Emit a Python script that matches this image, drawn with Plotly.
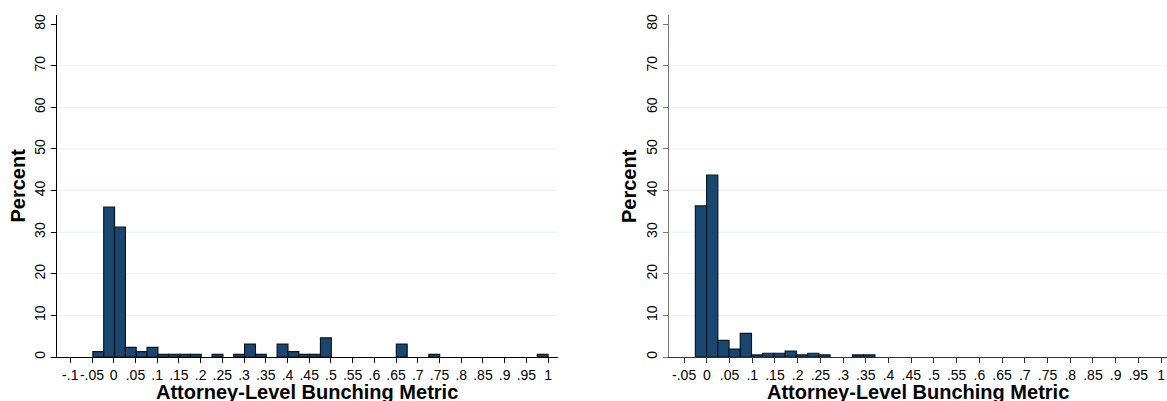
import plotly.graph_objects as go

# ---- data ----
left_bin_start = -0.048
left_bin_width = 0.02495
left_pct = [1.3, 36.0, 31.2, 2.3, 1.3, 2.3, 0.65, 0.65, 0.65, 0.65,
            0, 0.65, 0, 0.65, 3.1, 0.65, 0, 3.1, 1.3, 0.65,
            0.65, 4.6, 0, 0, 0, 0, 0, 0, 3.1, 0,
            0, 0.65, 0, 0, 0, 0, 0, 0, 0, 0,
            0, 0.65]

right_bin_start = -0.0252
right_bin_width = 0.0247
right_pct = [36.3, 43.7, 4.0, 1.9, 5.7, 0.5, 0.9, 0.9, 1.4, 0.5,
             0.9, 0.5, 0, 0, 0.5, 0.5]

left_tickvals = [-0.1, -0.05, 0, 0.05, 0.1, 0.15, 0.2, 0.25, 0.3, 0.35, 0.4, 0.45,
                 0.5, 0.55, 0.6, 0.65, 0.7, 0.75, 0.8, 0.85, 0.9, 0.95, 1]
left_ticktext = ["-.1", "-.05", "0", ".05", ".1", ".15", ".2", ".25", ".3", ".35", ".4", ".45",
                 ".5", ".55", ".6", ".65", ".7", ".75", ".8", ".85", ".9", ".95", "1"]
right_tickvals = left_tickvals[1:]
right_ticktext = left_ticktext[1:]

y_tickvals = [0, 10, 20, 30, 40, 50, 60, 70, 80]
y_gridvals = [10, 20, 30, 40, 50, 60, 70]

x_title = "Attorney-Level Bunching Metric"
y_title = "Percent"

# ---- style ----
FONT = "Arial, Liberation Sans, Helvetica, sans-serif"
BAR_FILL = "#1a476f"
BAR_LINE = "#0b1620"
GRID = "#e8f0f2"
W, H = 1167, 401
T, B = 15, 44
PLOT_H = H - T - B

def nonempty_bins(start, width, pct):
    xs, ys = [], []
    for i, v in enumerate(pct):
        if v > 0:
            xs.append(start + width * (i + 0.5))
            ys.append(v)
    return xs, ys

fig = go.Figure()
lx, ly = nonempty_bins(left_bin_start, left_bin_width, left_pct)
rx, ry = nonempty_bins(right_bin_start, right_bin_width, right_pct)
fig.add_trace(go.Bar(
    x=lx, y=ly, width=left_bin_width,
    marker=dict(color=BAR_FILL, line=dict(color=BAR_LINE, width=1.2)),
    xaxis="x", yaxis="y", showlegend=False, hoverinfo="x+y"))
fig.add_trace(go.Bar(
    x=rx, y=ry, width=right_bin_width,
    marker=dict(color=BAR_FILL, line=dict(color=BAR_LINE, width=1.2)),
    xaxis="x2", yaxis="y2", showlegend=False, hoverinfo="x+y"))

dom_l = [56.6 / W, 557.8 / W]
dom_r = [668.7 / W, 1.0]

def xaxis(dom, rng, tv, tt, anchor, linecolor):
    return dict(domain=dom, range=rng, tickmode="array", tickvals=tv, ticktext=tt,
                tickangle=0, ticks="outside", ticklen=5, tickcolor=linecolor, tickwidth=1,
                showline=True, linecolor=linecolor, linewidth=1, showgrid=False, zeroline=False,
                tickfont=dict(family=FONT, size=14, color="#000"),
                anchor=anchor, fixedrange=True)

def yaxis(anchor, linecolor):
    return dict(domain=[0, 1], range=[0, 82.2], tickmode="array", tickvals=y_tickvals,
                ticktext=[str(v) for v in y_tickvals], tickangle=-90,
                ticks="outside", ticklen=5, tickcolor=linecolor, tickwidth=1,
                showline=True, linecolor=linecolor, linewidth=1, showgrid=False, zeroline=False,
                tickfont=dict(family=FONT, size=14, color="#000"),
                anchor=anchor, fixedrange=True)

fig.update_layout(
    width=W, height=H,
    margin=dict(l=0, r=0, t=T, b=B),
    paper_bgcolor="white", plot_bgcolor="white",
    bargap=0,
    xaxis=xaxis(dom_l, [-0.1315, 1.0223], left_tickvals, left_ticktext, "y", "#000"),
    yaxis=yaxis("x", "#000"),
    xaxis2=xaxis(dom_r, [-0.0839, 1.013], right_tickvals, right_ticktext, "y2", "#333"),
    yaxis2=yaxis("x2", "#777"),
)

# gridlines (behind bars)
shapes = []
for xr, yr in (("x domain", "y"), ("x2 domain", "y2")):
    for g in y_gridvals:
        shapes.append(dict(type="line", xref=xr, yref=yr, x0=0, x1=1, y0=g, y1=g,
                           line=dict(color=GRID, width=1), layer="below"))
fig.update_layout(shapes=shapes)

# axis titles as annotations for exact placement
title_font = dict(family=FONT, size=20, color="#000")
annos = []
for dom, ycx in ((dom_l, 17.5), (dom_r, 629.0)):
    annos.append(dict(text="<b>" + x_title + "</b>", xref="paper", yref="paper",
                      x=(dom[0] + dom[1]) / 2, y=-(392 - (H - B)) / PLOT_H,
                      xanchor="center", yanchor="middle", showarrow=False, font=title_font))
    annos.append(dict(text="<b>" + y_title + "</b>", xref="paper", yref="paper",
                      x=ycx / W, y=0.5, textangle=-90,
                      xanchor="center", yanchor="middle", showarrow=False, font=title_font))
fig.update_layout(annotations=annos)

fig.write_html("out.html",
               config={"displayModeBar": False, "staticPlot": True},
               post_script="document.body.style.margin='0px';document.body.style.overflow='hidden';")
